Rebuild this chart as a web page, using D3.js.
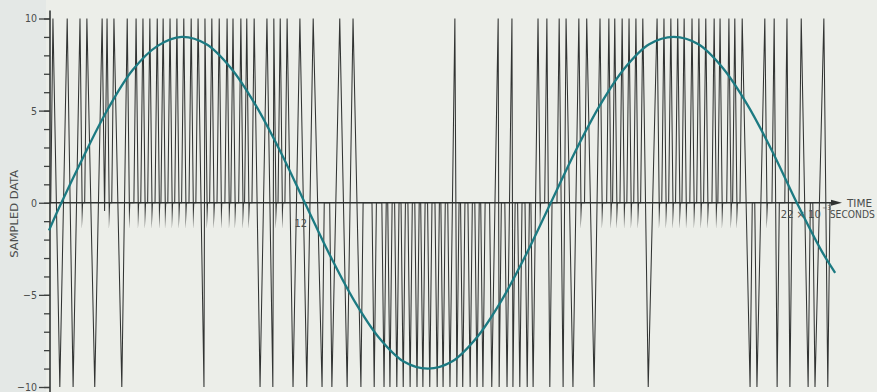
<!DOCTYPE html>
<html>
<head>
<meta charset="utf-8">
<script src="https://cdn.jsdelivr.net/npm/d3@7/dist/d3.min.js"></script>
<style>
  html, body { margin: 0; padding: 0; background: #eceee9; }
  svg { display: block; }
  text { font-family: "Liberation Sans Narrow", "DejaVu Sans Condensed", "Roboto", sans-serif; fill: #4a4d4c; }
</style>
</head>
<body>
<svg id="chart" width="877" height="392"></svg>
<script>
// Time axis in milliseconds, value axis in sample units.
const timeDomain = [6.8, 23.0];
const valueDomain = [-10, 10];

// Underlying sine (teal), read at half-millisecond steps.
const sineTime = [6.8, 7.0, 7.5, 8.0, 8.5, 9.0, 9.5, 10.0, 10.5, 11.0, 11.5, 12.0,
  12.5, 13.0, 13.5, 14.0, 14.5, 15.0, 15.5, 16.0, 16.5, 17.0, 17.5, 18.0,
  18.5, 19.0, 19.5, 20.0, 20.5, 21.0, 21.5, 22.0, 22.5, 22.78];
const sineValue = [-1.5, -0.3, 2.5, 5.1, 7.2, 8.5, 9.0, 8.6, 7.3, 5.3, 2.8, 0.0,
  -2.8, -5.3, -7.3, -8.6, -9.0, -8.6, -7.3, -5.3, -2.8, 0.0, 2.8, 5.3,
  7.3, 8.6, 9.0, 8.6, 7.3, 5.3, 2.8, 0.0, -2.6, -3.8];

// Sampled data: instants (ms) of positive samples at +10 and negative samples at -10.
const positivePulses = [6.88, 7.17, 7.43, 7.57, 7.88, 7.98, 8.12, 8.39, 8.57, 8.71,
  8.85, 9.00, 9.12, 9.26, 9.40, 9.54, 9.69, 9.83, 9.97, 10.11, 10.26, 10.42,
  10.54, 10.70, 10.82, 10.97, 11.23, 11.37, 11.50, 11.64, 11.90, 12.17, 12.71,
  12.98, 15.05, 15.93, 16.21, 16.74, 16.92, 17.17, 17.31, 17.57, 17.73, 18.00,
  18.18, 18.30, 18.45, 18.59, 18.73, 18.87, 19.16, 19.30, 19.44, 19.58, 19.71,
  19.87, 20.01, 20.15, 20.32, 20.44, 20.62, 20.74, 20.89, 21.35, 21.54, 21.80,
  22.09, 22.55];
const negativePulses = [7.02, 7.29, 7.73, 8.28, 9.95, 11.09, 11.35, 11.76, 12.04,
  12.35, 12.55, 12.86, 13.14, 13.41, 13.61, 13.73, 13.87, 14.00, 14.14, 14.28,
  14.40, 14.54, 14.69, 14.81, 14.95, 15.09, 15.21, 15.36, 15.50, 15.62, 15.80,
  15.95, 16.11, 16.23, 16.37, 16.52, 16.64, 16.98, 17.25, 17.45, 17.88, 18.98,
  21.05, 21.19, 21.60, 21.86, 22.23, 22.37, 22.63];
const pulseLevel = 10;
const restLevel = 0;
// small undershoot where two positive samples sit side by side
const troughLevel = -0.45;

// Axis labelling.
const majorTicks = [-10, -5, 0, 5, 10];
const minorTicks = d3.range(-10, 11, 1);
const yTitle = "SAMPLED DATA";
const timeTickLabel = "12";
const timeTickValue = 12;
const unitValue = 22;

const svg = d3.select("#chart");
const W = 877, H = 392;

const x = d3.scaleLinear().domain(timeDomain).range([49, 846]);
const y = d3.scaleLinear().domain(valueDomain).range([387, 18.5]);

// paper tone, slightly cooler at the left edge
svg.append("rect").attr("width", W).attr("height", H).attr("fill", "#eceee9");
svg.append("rect").attr("width", 46).attr("height", H).attr("fill", "#e4e8e6");

// sampled trace, built in pixel space: every sample is a narrow spike;
// close samples of opposite sign are joined by a full swing
const halfPx = 2.2;
const sameJoin = 2 * halfPx + 0.6;
const swingJoin = 9;
const samples = positivePulses.map(t => ({ t, v: pulseLevel }))
  .concat(negativePulses.map(t => ({ t, v: -pulseLevel })))
  .sort((a, b) => a.t - b.t);
const joined = (a, b) => {
  if (!a || !b) return false;
  const gap = x(b.t) - x(a.t);
  return Math.sign(a.v) === Math.sign(b.v) ? gap <= sameJoin : gap <= swingJoin;
};
const pts = [[x(timeDomain[0]), y(restLevel)]];
samples.forEach((s, i) => {
  const cx = x(s.t);
  const prev = samples[i - 1], next = samples[i + 1];
  if (!joined(prev, s)) pts.push([cx - halfPx, y(restLevel)]);
  pts.push([cx, y(s.v)]);
  if (joined(s, next)) {
    if (Math.sign(next.v) === Math.sign(s.v)) {
      pts.push([(cx + x(next.t)) / 2, y(s.v > 0 ? troughLevel : restLevel)]);
    }
  } else {
    pts.push([cx + halfPx, y(s.v > 0 ? troughLevel : restLevel)]);
    pts.push([cx + halfPx + 0.4, y(restLevel)]);
  }
});
pts.push([x(timeDomain[1]) - 10, y(restLevel)]);

svg.append("path")
  .attr("d", d3.line()(pts))
  .attr("fill", "none")
  .attr("stroke", "#323433")
  .attr("stroke-width", 1.05)
  .attr("stroke-linejoin", "miter")
  .attr("stroke-miterlimit", 40);

// value axis
const axisX = 50;
const gMinor = svg.append("g").attr("transform", `translate(${axisX},0)`)
  .call(d3.axisLeft(y).tickValues(minorTicks).tickSize(6).tickFormat(""));
const gMajor = svg.append("g").attr("transform", `translate(${axisX},0)`)
  .call(d3.axisLeft(y).tickValues(majorTicks).tickSize(11).tickPadding(2)
    .tickFormat(d => d < 0 ? "\u2212" + Math.abs(d) : String(d)));
[gMinor, gMajor].forEach(g => {
  g.select(".domain").remove();
  g.selectAll(".tick line").attr("stroke", "#3d403f").attr("stroke-width", 1.3);
});
gMajor.selectAll(".tick text")
  .attr("font-size", 10.5)
  .attr("fill", "#4f5352")
  .style("font-family", '"Liberation Sans Narrow", "DejaVu Sans Condensed", sans-serif');
svg.append("line")
  .attr("x1", axisX).attr("x2", axisX)
  .attr("y1", y(10) - 8).attr("y2", H)
  .attr("stroke", "#343736").attr("stroke-width", 1.6);

// time axis with arrow
const tipX = 842;
svg.append("line")
  .attr("x1", axisX).attr("x2", tipX - 6)
  .attr("y1", y(0)).attr("y2", y(0))
  .attr("stroke", "#2f3231").attr("stroke-width", 1.5);
svg.append("path")
  .attr("d", `M${tipX},${y(0)}L${tipX - 11},${y(0) - 3}L${tipX - 11},${y(0) + 3}Z`)
  .attr("fill", "#2f3231");

svg.append("text")
  .attr("x", tipX + 5).attr("y", y(0) + 4.5)
  .attr("font-size", 10.5)
  .attr("textLength", 25).attr("lengthAdjust", "spacingAndGlyphs")
  .text("TIME");

svg.append("text")
  .attr("x", x(timeTickValue) - 4).attr("y", y(0) + 24)
  .attr("text-anchor", "middle")
  .attr("font-size", 11)
  .text(timeTickLabel);

// unit label: 22 × 10^-3 SECONDS
const ux = x(unitValue) - 16;
svg.append("text")
  .attr("x", ux).attr("y", y(0) + 15)
  .attr("font-size", 10.5)
  .attr("textLength", 40).attr("lengthAdjust", "spacingAndGlyphs")
  .text("22 \u00d7 10");
svg.append("text")
  .attr("x", ux + 41.5).attr("y", y(0) + 7)
  .attr("font-size", 6.5)
  .text("\u22123");
svg.append("text")
  .attr("x", ux + 49).attr("y", y(0) + 15)
  .attr("font-size", 10.5)
  .attr("textLength", 45).attr("lengthAdjust", "spacingAndGlyphs")
  .text("SECONDS");

// axis title
svg.append("text")
  .attr("transform", `translate(18,${y(-0.6)}) rotate(-90)`)
  .attr("text-anchor", "middle")
  .attr("font-size", 10.5)
  .attr("textLength", 88).attr("lengthAdjust", "spacingAndGlyphs")
  .text(yTitle);

// underlying sine
const line = d3.line()
  .x((d, i) => x(sineTime[i]))
  .y(d => y(d))
  .curve(d3.curveCatmullRom.alpha(0.5));
svg.append("path")
  .attr("d", line(sineValue))
  .attr("fill", "none")
  .attr("stroke", "#1c7a82")
  .attr("stroke-width", 2.3);
</script>
</body>
</html>
